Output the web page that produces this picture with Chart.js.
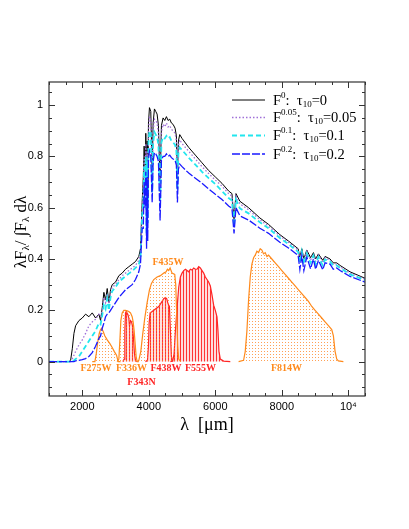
<!DOCTYPE html>
<html><head><meta charset="utf-8">
<script src="https://cdn.jsdelivr.net/npm/chart.js@4/dist/chart.umd.min.js"></script>
<style>html,body{margin:0;padding:0;background:#fff;}#wrap{width:409px;height:529px;position:relative;}</style>
</head><body><div id="wrap"><canvas id="c" width="409" height="529"></canvas></div>
<script>
// ---------- spectra (wavelength grid + four reddening cases) ----------
const specWl = [1000,1600,1650,1700,1750,1800,1900,2000,2100,2200,2300,2400,2500,2550,2600,2650,2700,2750,2800,2850,2900,3000,3100,3200,3300,3400,3500,3600,3700,3750,3800,3835,3860,3889,3910,3933,3950,3968,3990,4020,4060,4102,4130,4170,4210,4250,4290,4340,4380,4430,4480,4530,4580,4630,4680,4730,4790,4830,4861,4890,4930,5000,5200,5400,5600,5800,6000,6200,6400,6500,6563,6620,6740,7000,7340,7600,7940,8200,8490,8542,8600,8662,8750,8863,8950,9015,9100,9229,9300,9450,9546,9650,9750,10050,10500];
const specF0   = [0,0,0.005,0.05,0.11,0.14,0.16,0.17,0.185,0.175,0.19,0.17,0.185,0.16,0.21,0.27,0.24,0.285,0.23,0.28,0.30,0.31,0.335,0.345,0.36,0.37,0.38,0.39,0.41,0.44,0.62,0.72,0.84,0.74,0.89,0.60,0.86,0.64,0.93,0.99,0.975,0.74,0.93,0.985,0.975,0.965,0.92,0.70,0.92,0.95,0.94,0.955,0.94,0.945,0.93,0.925,0.91,0.88,0.72,0.86,0.885,0.87,0.835,0.805,0.775,0.745,0.72,0.695,0.665,0.655,0.55,0.655,0.625,0.60,0.56,0.535,0.495,0.47,0.44,0.405,0.44,0.40,0.435,0.405,0.425,0.40,0.42,0.395,0.41,0.40,0.385,0.385,0.375,0.35,0.325];
const specF005 = [0,0,0,0.01,0.025,0.04,0.065,0.085,0.11,0.14,0.155,0.165,0.185,0.175,0.20,0.25,0.23,0.265,0.225,0.265,0.29,0.30,0.32,0.335,0.345,0.355,0.365,0.375,0.395,0.42,0.60,0.68,0.80,0.70,0.85,0.55,0.82,0.58,0.89,0.955,0.94,0.70,0.90,0.945,0.94,0.93,0.89,0.66,0.895,0.925,0.915,0.93,0.915,0.92,0.905,0.90,0.89,0.86,0.70,0.84,0.865,0.85,0.82,0.79,0.76,0.733,0.708,0.684,0.655,0.645,0.54,0.645,0.615,0.592,0.553,0.528,0.49,0.465,0.435,0.395,0.435,0.39,0.43,0.395,0.42,0.39,0.415,0.385,0.405,0.395,0.38,0.38,0.37,0.345,0.322];
const specF01  = [0,0,0,0,0.005,0.01,0.02,0.04,0.06,0.08,0.10,0.12,0.15,0.145,0.18,0.22,0.205,0.245,0.20,0.25,0.275,0.29,0.31,0.322,0.333,0.343,0.353,0.365,0.38,0.40,0.57,0.62,0.76,0.66,0.80,0.50,0.78,0.54,0.85,0.90,0.89,0.66,0.85,0.895,0.885,0.875,0.845,0.61,0.855,0.875,0.87,0.88,0.87,0.875,0.86,0.855,0.845,0.82,0.67,0.81,0.835,0.825,0.795,0.768,0.74,0.715,0.692,0.665,0.638,0.628,0.53,0.632,0.597,0.578,0.543,0.52,0.482,0.458,0.428,0.385,0.428,0.38,0.422,0.385,0.413,0.38,0.408,0.375,0.398,0.39,0.375,0.375,0.365,0.34,0.318];
const specF02  = [0,0,0,0,0,0.003,0.005,0.008,0.012,0.02,0.035,0.06,0.09,0.10,0.13,0.15,0.175,0.185,0.19,0.20,0.21,0.23,0.25,0.265,0.28,0.29,0.30,0.32,0.35,0.38,0.52,0.52,0.70,0.60,0.74,0.44,0.72,0.47,0.79,0.82,0.80,0.62,0.78,0.815,0.81,0.80,0.78,0.55,0.785,0.80,0.80,0.81,0.80,0.805,0.795,0.79,0.785,0.765,0.62,0.75,0.77,0.76,0.735,0.715,0.695,0.673,0.652,0.632,0.607,0.597,0.50,0.60,0.568,0.552,0.52,0.50,0.465,0.443,0.414,0.36,0.412,0.355,0.408,0.362,0.40,0.36,0.395,0.358,0.385,0.38,0.36,0.365,0.355,0.332,0.31];

// ---------- filter throughput curves (scaled) ----------
const f275wWl = [2300,2380,2420,2470,2510,2550,2580,2620,2680,2750,2830,2900,2960,3030,3060,3080,3150];
const f275wT  = [0,0,0.03,0.08,0.11,0.125,0.13,0.12,0.10,0.085,0.07,0.055,0.04,0.025,0.01,0,0];
const f336wWl = [3050,3100,3130,3160,3200,3250,3300,3350,3400,3450,3500,3530,3560,3590,3620,3650,3700];
const f336wT  = [0,0.01,0.08,0.16,0.19,0.20,0.20,0.198,0.195,0.19,0.175,0.155,0.12,0.07,0.02,0,0];
const f343nWl = [3220,3260,3280,3300,3320,3340,3370,3400,3420,3450,3480,3510,3540,3570,3600,3640];
const f343nT  = [0,0.01,0.12,0.19,0.195,0.19,0.185,0.17,0.14,0.16,0.155,0.14,0.09,0.03,0.005,0];
const f435wWl = [3650,3700,3760,3820,3880,3950,4020,4080,4150,4250,4350,4450,4520,4560,4600,4640,4700,4780,4810,4840,4870,4900,4960];
const f435wT  = [0,0.005,0.04,0.11,0.17,0.23,0.28,0.305,0.32,0.33,0.335,0.345,0.35,0.36,0.355,0.365,0.345,0.34,0.30,0.18,0.06,0.01,0];
const f438wWl = [3900,3960,3990,4010,4040,4100,4200,4300,4400,4450,4500,4540,4580,4620,4650,4680,4720];
const f438wT  = [0,0.005,0.06,0.15,0.19,0.195,0.205,0.215,0.235,0.245,0.25,0.245,0.225,0.215,0.12,0.02,0];
const f555wWl = [4650,4720,4760,4800,4850,4900,4950,5000,5050,5100,5150,5200,5250,5300,5350,5400,5450,5500,5550,5600,5650,5700,5750,5800,5850,5900,5950,6000,6050,6080,6110,6150,6250,6450];
const f555wT  = [0,0.003,0.03,0.12,0.21,0.29,0.33,0.345,0.355,0.36,0.355,0.35,0.36,0.357,0.365,0.36,0.36,0.37,0.365,0.355,0.345,0.33,0.32,0.31,0.295,0.26,0.22,0.20,0.175,0.12,0.04,0.01,0.002,0];
const f814wWl = [6700,6850,6900,6950,7000,7050,7100,7150,7200,7250,7300,7350,7400,7450,7500,7550,7600,7700,7800,7900,8000,8100,8200,8300,8400,8500,8600,8700,8800,8900,9000,9100,9200,9300,9400,9500,9550,9600,9650,9700,9850];
const f814wT  = [0,0.005,0.04,0.12,0.24,0.33,0.38,0.405,0.415,0.43,0.425,0.44,0.435,0.42,0.425,0.41,0.415,0.40,0.385,0.37,0.355,0.34,0.325,0.31,0.295,0.28,0.265,0.25,0.235,0.215,0.2,0.185,0.17,0.155,0.14,0.125,0.1,0.04,0.01,0.003,0];

// ---------- labels ----------
const filterNames = ['F275W','F336W','F343N','F435W','F438W','F555W','F814W'];
const filterLabelWl = [2413,3480,3780,4577,4517,5554,8139];
const filterLabelY  = [-0.025,-0.025,-0.082,0.386,-0.025,-0.025,-0.025];
const legendSup = ['0','0.05','0.1','0.2'];
const legendTau = ['0','0.05','0.1','0.2'];
const xTickVals = [2000,4000,6000,8000,10000];
const xTickLabels = ['2000','4000','6000','8000','10\u2074'];
const yTickVals = [0,0.2,0.4,0.6,0.8,1];
const yTickLabels = ['0','0.2','0.4','0.6','0.8','1'];

const ORANGE = '#ff8a1c', RED = '#ff2626';
const canvas = document.getElementById('c');
const ctx0 = canvas.getContext('2d');
function dotPattern(color){ const c=document.createElement('canvas'); c.width=3;c.height=3; const g=c.getContext('2d'); g.fillStyle=color; g.fillRect(0,0,1,1); return ctx0.createPattern(c,'repeat'); }
function hatchPattern(color){ const c=document.createElement('canvas'); c.width=3;c.height=2; const g=c.getContext('2d'); g.fillStyle=color; g.fillRect(0,0,1,2); g.fillStyle='rgba(255,120,120,0.25)'; g.fillRect(1,0,2,2); return ctx0.createPattern(c,'repeat'); }
const dots = dotPattern('rgba(255,130,30,0.75)');
const hatch = hatchPattern('rgba(255,30,30,0.9)');

const toXY = (xs, ys) => xs.map((x,i)=>({x:x, y:ys[i]}));
const spec = (label, ys, color, dash, w, order) => ({label, data: toXY(specWl, ys), borderColor: color, borderWidth: w, borderDash: dash, fill:false, pointRadius:0, tension:0, order});
const filt = (label, xs, ys, color, bg) => ({label, data: toXY(xs, ys), borderColor: color, borderWidth: 1.2, backgroundColor: bg, fill:'origin', pointRadius:0, tension:0, order: 10});

const specSets = [
  spec('F0', specF0, '#000000', [], 1, 4),
  spec('F0.05', specF005, '#a070d8', [1.5,2], 1.3, 3),
  spec('F0.1', specF01, '#22e6ee', [5,3], 1.8, 2),
  spec('F0.2', specF02, '#1a1aff', [8,2], 1.3, 1)
];
const filterColors = [ORANGE, ORANGE, RED, ORANGE, RED, RED, ORANGE];
const datasets = [
  ...specSets,
  filt('F275W', f275wWl, f275wT, ORANGE, dots),
  filt('F336W', f336wWl, f336wT, ORANGE, dots),
  filt('F343N', f343nWl, f343nT, RED, hatch),
  filt('F435W', f435wWl, f435wT, ORANGE, dots),
  filt('F438W', f438wWl, f438wT, RED, hatch),
  filt('F555W', f555wWl, f555wT, RED, hatch),
  filt('F814W', f814wWl, f814wT, ORANGE, dots)
];

function drawRich(ctx, x, y, parts, big, small, family){
  for (const [t,k] of parts){
    ctx.font = (k==='n' ? big : small) + 'px ' + family;
    const dy = k==='sup' ? -big*0.38 : (k==='sub' ? big*0.25 : 0);
    ctx.fillText(t, x, y+dy);
    x += ctx.measureText(t).width;
  }
  return x;
}
function richWidth(ctx, parts, big, small, family){
  let w=0; for (const [t,k] of parts){ ctx.font=(k==='n'?big:small)+'px '+family; w+=ctx.measureText(t).width; } return w;
}

const deco = {
  id:'deco',
  afterDraw(chart){
    const {ctx, chartArea:a, scales:{x, y}} = chart;
    ctx.save();
    ctx.strokeStyle='#333'; ctx.lineWidth=1.2;
    ctx.strokeRect(a.left, a.top, a.right-a.left, a.bottom-a.top);
    ctx.beginPath();
    for (let v=1000; v<=10500; v+=500){
      const px = Math.round(x.getPixelForValue(v))+0.5;
      const len = (v%2000===0) ? 6 : 3;
      ctx.moveTo(px, a.bottom); ctx.lineTo(px, a.bottom-len);
      ctx.moveTo(px, a.top); ctx.lineTo(px, a.top+len);
    }
    for (let i=-2; i<=21; i++){
      const v = i*0.05;
      const py = Math.round(y.getPixelForValue(v))+0.5;
      if (py < a.top || py > a.bottom) continue;
      const len = (i%4===0) ? 6 : 3;
      ctx.moveTo(a.left, py); ctx.lineTo(a.left+len, py);
      ctx.moveTo(a.right, py); ctx.lineTo(a.right-len, py);
    }
    ctx.lineWidth=1; ctx.stroke();

    ctx.textAlign='center'; ctx.textBaseline='middle';
    ctx.font='bold 10px "Liberation Serif"';
    filterNames.forEach((n,i)=>{
      ctx.fillStyle = filterColors[i];
      ctx.fillText(n, x.getPixelForValue(filterLabelWl[i]), y.getPixelForValue(filterLabelY[i]));
    });

    const rows = [100, 117.5, 135.5, 154];
    ctx.textAlign='left'; ctx.textBaseline='middle';
    specSets.forEach((ds,i)=>{
      ctx.save();
      ctx.strokeStyle = ds.borderColor; ctx.lineWidth = ds.borderWidth; ctx.setLineDash(ds.borderDash);
      ctx.beginPath(); ctx.moveTo(232, rows[i]); ctx.lineTo(265, rows[i]); ctx.stroke();
      ctx.restore();
      ctx.fillStyle='#000';
      drawRich(ctx, 273, rows[i]+1, [['F','n'],[legendSup[i],'sup'],[':  \u03c4','n'],['10','sub'],['='+legendTau[i],'n']], 14.5, 9, '"Liberation Serif"');
    });

    ctx.fillStyle='#000'; ctx.textAlign='center'; ctx.textBaseline='middle';
    ctx.font='18px "Liberation Serif"';
    ctx.fillText('\u03bb  [\u03bcm]', (a.left+a.right)/2, 425);

    ctx.save();
    ctx.translate(22, 232); ctx.rotate(-Math.PI/2);
    const parts = [['\u03bbF','n'],['\u03bb','sub'],['/ \u222bF','n'],['\u03bb','sub'],[' d\u03bb','n']];
    const w = richWidth(ctx, parts, 17, 11, '"Liberation Serif"');
    ctx.textAlign='left'; ctx.textBaseline='middle';
    drawRich(ctx, -w/2, 0, parts, 17, 11, '"Liberation Serif"');
    ctx.restore();
    ctx.restore();
  }
};

new Chart(canvas, {
  type:'line',
  data:{datasets},
  options:{
    responsive:false, animation:false,
    layout:{padding:{left:0, right:44, top:82, bottom:0}},
    plugins:{legend:{display:false}, tooltip:{enabled:false}},
    scales:{
      x:{type:'linear', min:1000, max:10500,
         grid:{display:false, drawTicks:false}, border:{display:false},
         afterBuildTicks(s){ s.ticks = xTickVals.map(v=>({value:v})); },
         afterFit(s){ s.height = 133; },
         ticks:{padding:4, color:'#000', font:{family:'"Liberation Sans"', size:11}, maxRotation:0, autoSkip:false,
                callback:(v)=>{ const i=xTickVals.indexOf(v); return i>=0 ? xTickLabels[i] : ''; }}},
      y:{type:'linear', min:-0.134, max:1.09,
         grid:{display:false, drawTicks:false}, border:{display:false},
         afterBuildTicks(s){ s.ticks = yTickVals.map(v=>({value:v})); },
         afterFit(s){ s.width = 49; },
         ticks:{padding:6, color:'#000', font:{family:'"Liberation Sans"', size:11}, autoSkip:false,
                callback:(v)=>{ const i=yTickVals.findIndex(t=>Math.abs(t-v)<1e-6); return i>=0 ? yTickLabels[i] : ''; }}}
    }
  },
  plugins:[deco]
});
</script></body></html>
